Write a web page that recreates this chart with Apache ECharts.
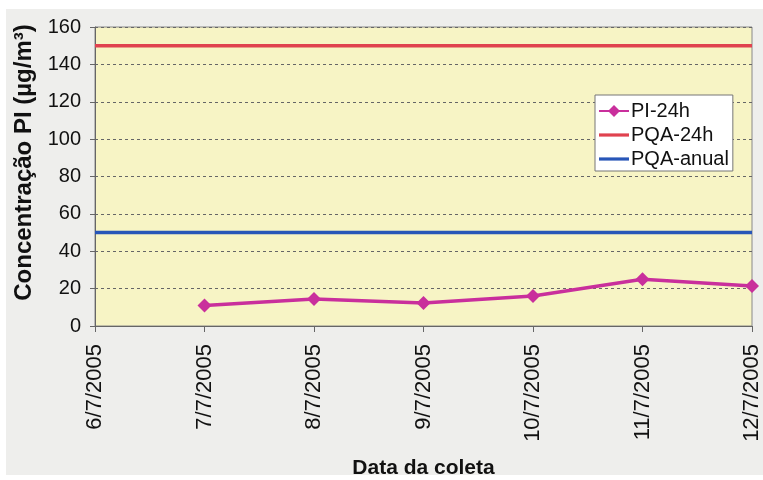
<!DOCTYPE html>
<html><head><meta charset="utf-8">
<script src="https://cdn.jsdelivr.net/npm/echarts@6/dist/echarts.min.js"></script>
<style>html,body{margin:0;padding:0;background:#fff}#c{width:763px;height:480px}</style>
</head><body><div id="c"></div>
<script>
const categories = ['6/7/2005','7/7/2005','8/7/2005','9/7/2005','10/7/2005','11/7/2005','12/7/2005'];
const pi24h = [null, 11, 14.5, 12.3, 16, 25, 21.4];
const pqa24h = [150, 150, 150, 150, 150, 150, 150];
const pqaAnual = [50, 50, 50, 50, 50, 50, 50];
const yTicks = [0, 20, 40, 60, 80, 100, 120, 140, 160];

const chart = echarts.init(document.getElementById('c'));
const font = 'Liberation Sans, Arial, sans-serif';
const lineIcon = 'path://M0,0 L30,0 L30,3.2 L0,3.2 Z';
chart.setOption({
  backgroundColor: '#ffffff',
  animation: false,
  graphic: [{type:'rect', z:-10, silent:true, shape:{x:6,y:9,width:757,height:466}, style:{fill:'#eeeeec'}}],
  grid: {left: 95, right: 11, top: 27, bottom: 154, show: true, outerBoundsMode: 'none', containLabel: false,
         backgroundColor: '#f7f4c5', borderColor: '#888', borderWidth: 1},
  legend: {
    orient: 'vertical', left: 595, top: 95, padding: [6, 4, 2, 3],
    backgroundColor: '#ffffff', borderColor: '#777', borderWidth: 1,
    itemWidth: 30, itemHeight: 15, itemGap: 4,
    textStyle: {fontFamily: font, fontSize: 20, color: '#111', padding: [0,0,0,-3]},
    data: [{name: 'PI-24h'}, {name: 'PQA-24h', icon: lineIcon}, {name: 'PQA-anual', icon: lineIcon}]
  },
  xAxis: {
    type: 'category', data: categories, boundaryGap: false,
    name: 'Data da coleta', nameLocation: 'middle', nameGap: 132,
    nameTextStyle: {fontFamily: font, fontSize: 21, fontWeight: 'bold', color: '#111'},
    axisLine: {lineStyle: {color: '#666'}},
    axisTick: {show: true, alignWithLabel: true, length: 6, lineStyle: {color: '#666'}},
    axisLabel: {rotate: 90, fontFamily: font, fontSize: 22, color: '#111', margin: 18},
    splitLine: {show: false}
  },
  yAxis: {
    type: 'value', min: yTicks[0], max: yTicks[yTicks.length-1], interval: 20,
    name: 'Concentração PI (µg/m³)', nameLocation: 'middle', nameGap: 56, nameRotate: 90,
    nameTextStyle: {fontFamily: font, fontSize: 24, fontWeight: 'bold', color: '#111', padding: [0, 0, 0, 28]},
    axisLine: {show: true, lineStyle: {color: '#666'}},
    axisTick: {show: true, length: 5, lineStyle: {color: '#666'}},
    axisLabel: {fontFamily: font, fontSize: 20, color: '#111', margin: 14},
    splitLine: {show: true, lineStyle: {color: '#666', type: [3, 3], width: 1}}
  },
  series: [
    {name: 'PI-24h', type: 'line', data: pi24h, color: '#c92f9c', symbol: 'diamond', symbolSize: 14,
     lineStyle: {width: 3.5, color: '#c92f9c'}, itemStyle: {color: '#c92f9c'}, connectNulls: false},
    {name: 'PQA-24h', type: 'line', data: pqa24h, color: '#e0424f', symbol: 'none', lineStyle: {width: 3.5, color: '#e0424f'}},
    {name: 'PQA-anual', type: 'line', data: pqaAnual, color: '#2856b8', symbol: 'none', lineStyle: {width: 3.5, color: '#2856b8'}}
  ]
});
</script></body></html>
